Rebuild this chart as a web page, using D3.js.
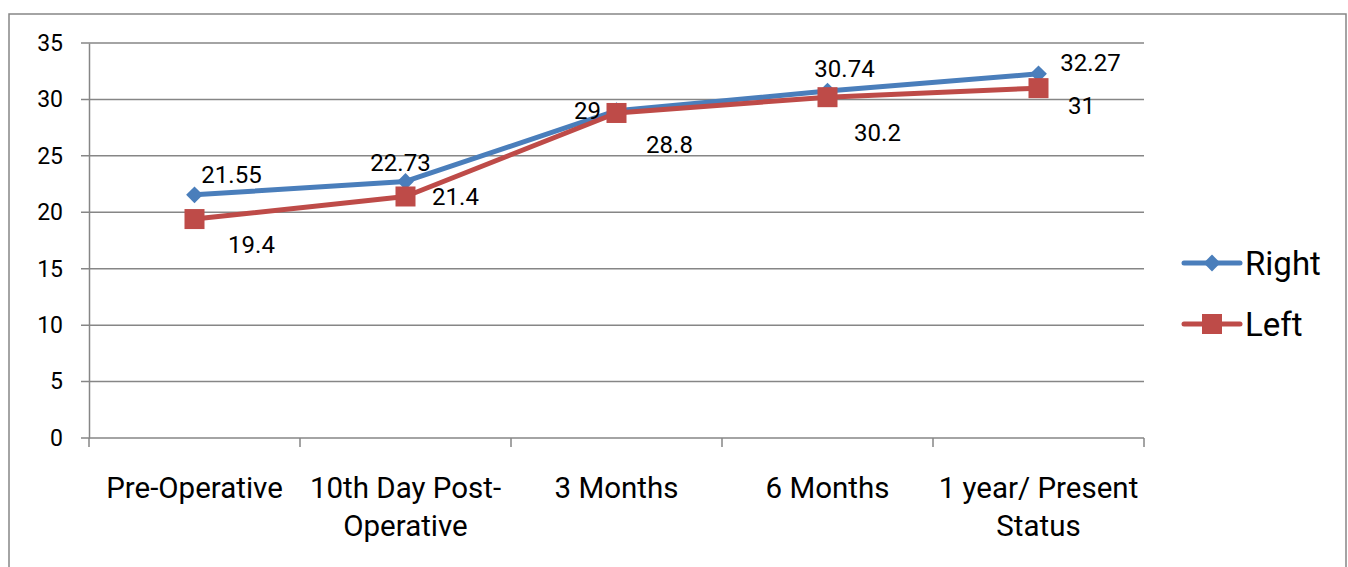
<!DOCTYPE html>
<html>
<head>
<meta charset="utf-8">
<script src="https://cdn.jsdelivr.net/npm/d3@7"></script>
<style>
  body { margin: 0; background: #fff; }
  text { font-family: Roboto, "Open Sans", sans-serif; fill: #000; }
</style>
</head>
<body>
<svg id="chart" width="1348" height="567"></svg>
<script>
// chart data
const categories = ['Pre-Operative', '10th Day Post-Operative', '3 Months', '6 Months', '1 year/ Present Status'];
const categoryLines = [['Pre-Operative'], ['10th Day Post-', 'Operative'], ['3 Months'], ['6 Months'], ['1 year/ Present', 'Status']];
const rightValues = [21.55, 22.73, 29, 30.74, 32.27];
const leftValues = [19.4, 21.4, 28.8, 30.2, 31];
const yTicks = [0, 5, 10, 15, 20, 25, 30, 35];

const width = 1348;
const height = 567;
const margin = {top: 43, right: 204, bottom: 129, left: 89};
const blue = '#4a7ebb';
const red = '#be4b48';
const grid = '#868686';

const svg = d3.select('#chart');

// outer frame
svg.append('rect')
  .attr('x', 9).attr('y', 14)
  .attr('width', 1337).attr('height', 570)
  .attr('fill', 'none').attr('stroke', grid).attr('stroke-width', 1.5);

const xScale = d3.scaleBand()
  .domain(categories)
  .range([margin.left, width - margin.right]);
const yScale = d3.scaleLinear()
  .domain([0, 35])
  .range([height - margin.bottom, margin.top]);

// horizontal grid lines (they stick out left as tick marks)
svg.append('g')
  .selectAll('line')
  .data(yTicks)
  .join('line')
  .attr('x1', margin.left - 8)
  .attr('x2', width - margin.right)
  .attr('y1', (d) => yScale(d))
  .attr('y2', (d) => yScale(d))
  .attr('stroke', grid)
  .attr('stroke-width', 1.5);

// y axis
const yAxis = d3.axisLeft(yScale).tickValues(yTicks).tickSize(0).tickPadding(26);
const yG = svg.append('g')
  .attr('transform', `translate(${margin.left}, 0)`)
  .call(yAxis);
yG.select('.domain').attr('stroke', grid).attr('stroke-width', 1.5);
yG.selectAll('text')
  .style('font-size', '23px')
  .style('font-family', 'Roboto, sans-serif')
  .attr('fill', '#000');

// x axis with ticks at band edges
const xAxisY = yScale(0);
svg.append('g')
  .selectAll('line')
  .data(d3.range(categories.length + 1))
  .join('line')
  .attr('x1', (i) => margin.left + i * xScale.bandwidth())
  .attr('x2', (i) => margin.left + i * xScale.bandwidth())
  .attr('y1', xAxisY)
  .attr('y2', xAxisY + 9)
  .attr('stroke', grid)
  .attr('stroke-width', 1.5);

// x labels
const xLabels = svg.append('g');
categories.forEach((c, i) => {
  const t = xLabels.append('text')
    .attr('x', xScale(c) + xScale.bandwidth() / 2)
    .attr('y', 498)
    .attr('text-anchor', 'middle')
    .style('font-size', '29.5px');
  categoryLines[i].forEach((line, j) => {
    t.append('tspan')
      .attr('x', xScale(c) + xScale.bandwidth() / 2)
      .attr('dy', j === 0 ? 0 : 38)
      .text(line);
  });
});

const cx = (i) => xScale(categories[i]) + xScale.bandwidth() / 2;
const line = d3.line().x((d, i) => cx(i)).y((d) => yScale(d));

// series lines
svg.append('path').datum(rightValues)
  .attr('d', line).attr('fill', 'none')
  .attr('stroke', blue).attr('stroke-width', 5).attr('stroke-linejoin', 'round');
svg.append('path').datum(leftValues)
  .attr('d', line).attr('fill', 'none')
  .attr('stroke', red).attr('stroke-width', 5).attr('stroke-linejoin', 'round');

// markers
const diamond = d3.symbol().type(d3.symbolDiamond2).size(180);
svg.append('g')
  .selectAll('path')
  .data(rightValues)
  .join('path')
  .attr('d', diamond)
  .attr('transform', (d, i) => `translate(${cx(i)}, ${yScale(d)})`)
  .attr('fill', blue);
svg.append('g')
  .selectAll('rect')
  .data(leftValues)
  .join('rect')
  .attr('x', (d, i) => cx(i) - 10)
  .attr('y', (d) => yScale(d) - 10)
  .attr('width', 20).attr('height', 20)
  .attr('fill', red);

// data labels, offsets from the point they belong to
const rightOffsets = [[37, -20], [-5, -19], [-29, 0], [17, -23], [52, -11]];
const leftOffsets = [[57, 25], [50, 0], [53, 32], [50, 35], [43, 17]];
svg.append('g')
  .selectAll('text')
  .data(rightValues)
  .join('text')
  .attr('x', (d, i) => cx(i) + rightOffsets[i][0])
  .attr('y', (d, i) => yScale(d) + rightOffsets[i][1] + 8.5)
  .attr('text-anchor', 'middle')
  .style('font-size', '24px')
  .text((d) => d);
svg.append('g')
  .selectAll('text')
  .data(leftValues)
  .join('text')
  .attr('x', (d, i) => cx(i) + leftOffsets[i][0])
  .attr('y', (d, i) => yScale(d) + leftOffsets[i][1] + 8.5)
  .attr('text-anchor', 'middle')
  .style('font-size', '24px')
  .text((d) => d);

// legend
const legend = svg.append('g').attr('transform', 'translate(1184, 0)');
[['Right', blue, 263], ['Left', red, 324]].forEach(([name, color, y], k) => {
  legend.append('line')
    .attr('x1', 0).attr('x2', 56).attr('y1', y).attr('y2', y)
    .attr('stroke', color).attr('stroke-width', 5).attr('stroke-linecap', 'round');
  if (k === 0) {
    legend.append('path').attr('d', diamond)
      .attr('transform', `translate(28, ${y})`).attr('fill', color);
  } else {
    legend.append('rect').attr('x', 18).attr('y', y - 10)
      .attr('width', 20).attr('height', 20).attr('fill', color);
  }
  legend.append('text')
    .attr('x', 61).attr('y', y + 12)
    .style('font-size', '33px')
    .text(name);
});
</script>
</body>
</html>
